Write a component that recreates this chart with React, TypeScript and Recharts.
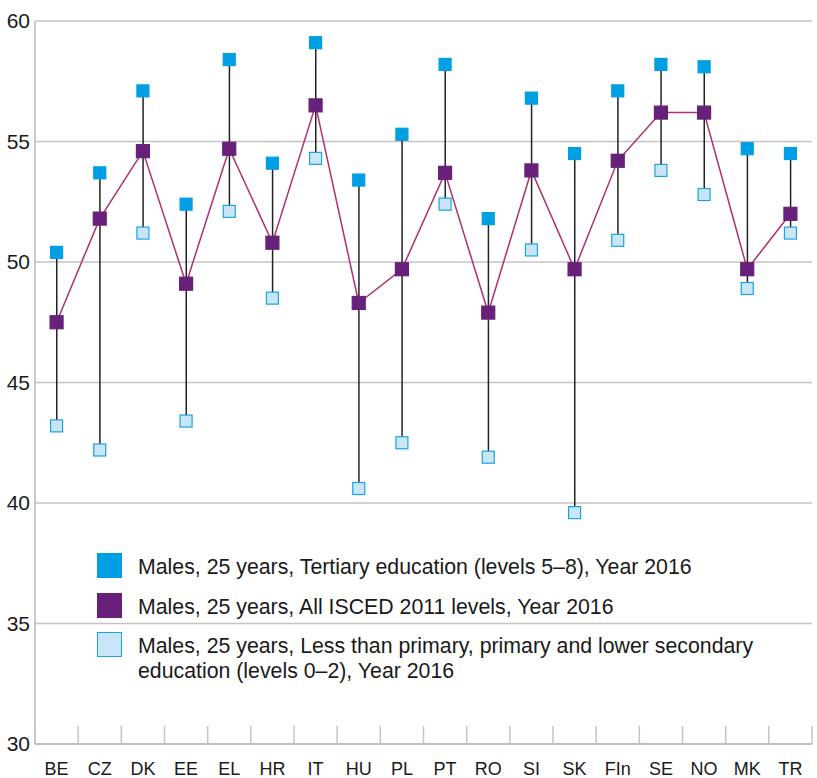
import {
  Bar,
  CartesianGrid,
  ComposedChart,
  Legend,
  Line,
  XAxis,
  YAxis,
} from "recharts";

const countries = ["BE", "CZ", "DK", "EE", "EL", "HR", "IT", "HU", "PL", "PT", "RO", "SI", "SK", "FIn", "SE", "NO", "MK", "TR"];
const tertiary = [50.4, 53.7, 57.1, 52.4, 58.4, 54.1, 59.1, 53.4, 55.3, 58.2, 51.8, 56.8, 54.5, 57.1, 58.2, 58.1, 54.7, 54.5];
const allLevels = [47.5, 51.8, 54.6, 49.1, 54.7, 50.8, 56.5, 48.3, 49.7, 53.7, 47.9, 53.8, 49.7, 54.2, 56.2, 56.2, 49.7, 52.0];
const lowEducation = [43.2, 42.2, 51.2, 43.4, 52.1, 48.5, 54.3, 40.6, 42.5, 52.4, 41.9, 50.5, 39.6, 50.9, 53.8, 52.8, 48.9, 51.2];
const yTicks = [30, 35, 40, 45, 50, 55, 60];

const legendItems = [
  { label: "Males, 25 years, Tertiary education (levels 5–8), Year 2016", fill: "#009fe3", stroke: "#009fe3" },
  { label: "Males, 25 years, All ISCED 2011 levels, Year 2016", fill: "#68217a", stroke: "#68217a" },
  { label: "Males, 25 years, Less than primary, primary and lower secondary\neducation (levels 0–2), Year 2016", fill: "#c9e6f8", stroke: "#1ea3e0" },
];

const data = countries.map((name, i) => ({
  name,
  tertiary: tertiary[i],
  all: allLevels[i],
  low: lowEducation[i],
  range: [Math.min(tertiary[i], allLevels[i], lowEducation[i]), Math.max(tertiary[i], allLevels[i], lowEducation[i])],
}));

const FONT = "'Liberation Sans', Arial, sans-serif";

function squareDot(fill: string, stroke: string, size = 12) {
  return (props: any) => {
    const { cx, cy, index } = props;
    if (cx == null || cy == null) return <g key={index} />;
    return (
      <rect
        key={index}
        x={cx - size / 2}
        y={cy - size / 2}
        width={size}
        height={size}
        fill={fill}
        stroke={stroke}
        strokeWidth={1.2}
      />
    );
  };
}

function CountryTick(props: any) {
  const { x, y, payload, index } = props;
  const half = payload?.offset ?? 21.6;
  return (
    <g>
      {index === 0 && <line x1={x - half} x2={x - half} y1={y} y2={y - 18} stroke="#c4c4c4" strokeWidth={1.5} />}
      <line x1={x + half} x2={x + half} y1={y} y2={y - 18} stroke="#c4c4c4" strokeWidth={1.5} />
      <text x={x} y={y + 31} textAnchor="middle" fontSize={18} fill="#1a1a1a" fontFamily={FONT}>
        {payload.value}
      </text>
    </g>
  );
}

function LegendBox() {
  return (
    <div style={{ fontFamily: FONT, fontSize: 21.3, color: "#1a1a1a" }}>
      {legendItems.map((item) => (
        <div key={item.label} style={{ display: "flex", alignItems: "flex-start", marginBottom: 12.5 }}>
          <div
            style={{
              width: 25,
              height: 25,
              background: item.fill,
              border: `1.5px solid ${item.stroke}`,
              boxSizing: "border-box",
              flexShrink: 0,
            }}
          />
          <div style={{ marginLeft: 16, marginTop: 2, lineHeight: "25px", whiteSpace: "pre" }}>{item.label}</div>
        </div>
      ))}
    </div>
  );
}

export default function App() {
  return (
    <div style={{ position: "absolute", left: 0, top: 0, width: 817, height: 778, background: "#fff" }}>
      <ComposedChart
        width={817}
        height={778}
        data={data}
        margin={{ top: 21, right: 5, left: 0, bottom: 0 }}
      >
        <CartesianGrid vertical={false} stroke="#c4c4c4" strokeWidth={1.5} />
        <XAxis
          dataKey="name"
          height={34}
          tickLine={false}
          tickSize={0}
          tickMargin={0}
          axisLine={{ stroke: "#b8b8b8", strokeWidth: 1.5 }}
          tick={<CountryTick />}
          interval={0}
        />
        <YAxis
          width={35}
          domain={[30, 60]}
          ticks={yTicks}
          tickLine={false}
          tickSize={0}
          tickMargin={5}
          axisLine={{ stroke: "#b8b8b8", strokeWidth: 1.5 }}
          tick={{ fontSize: 21, fill: "#1a1a1a", fontFamily: FONT }}
        />
        <Legend
          layout="vertical"
          align="center"
          verticalAlign="middle"
          wrapperStyle={{ left: 97, top: 553, width: 715 }}
          content={() => <LegendBox />}
        />
        <Bar dataKey="range" barSize={1.5} fill="#222" isAnimationActive={false} legendType="none" />
        <Line
          dataKey="all"
          stroke="#b0306d"
          strokeWidth={1.5}
          dot={squareDot("#68217a", "#68217a", 13)}
          activeDot={false}
          isAnimationActive={false}
        />
        <Line
          dataKey="tertiary"
          stroke="none"
          dot={squareDot("#009fe3", "#009fe3", 12)}
          activeDot={false}
          isAnimationActive={false}
        />
        <Line
          dataKey="low"
          stroke="none"
          dot={squareDot("#c9e6f8", "#1ea3e0", 12)}
          activeDot={false}
          isAnimationActive={false}
        />
      </ComposedChart>
    </div>
  );
}
